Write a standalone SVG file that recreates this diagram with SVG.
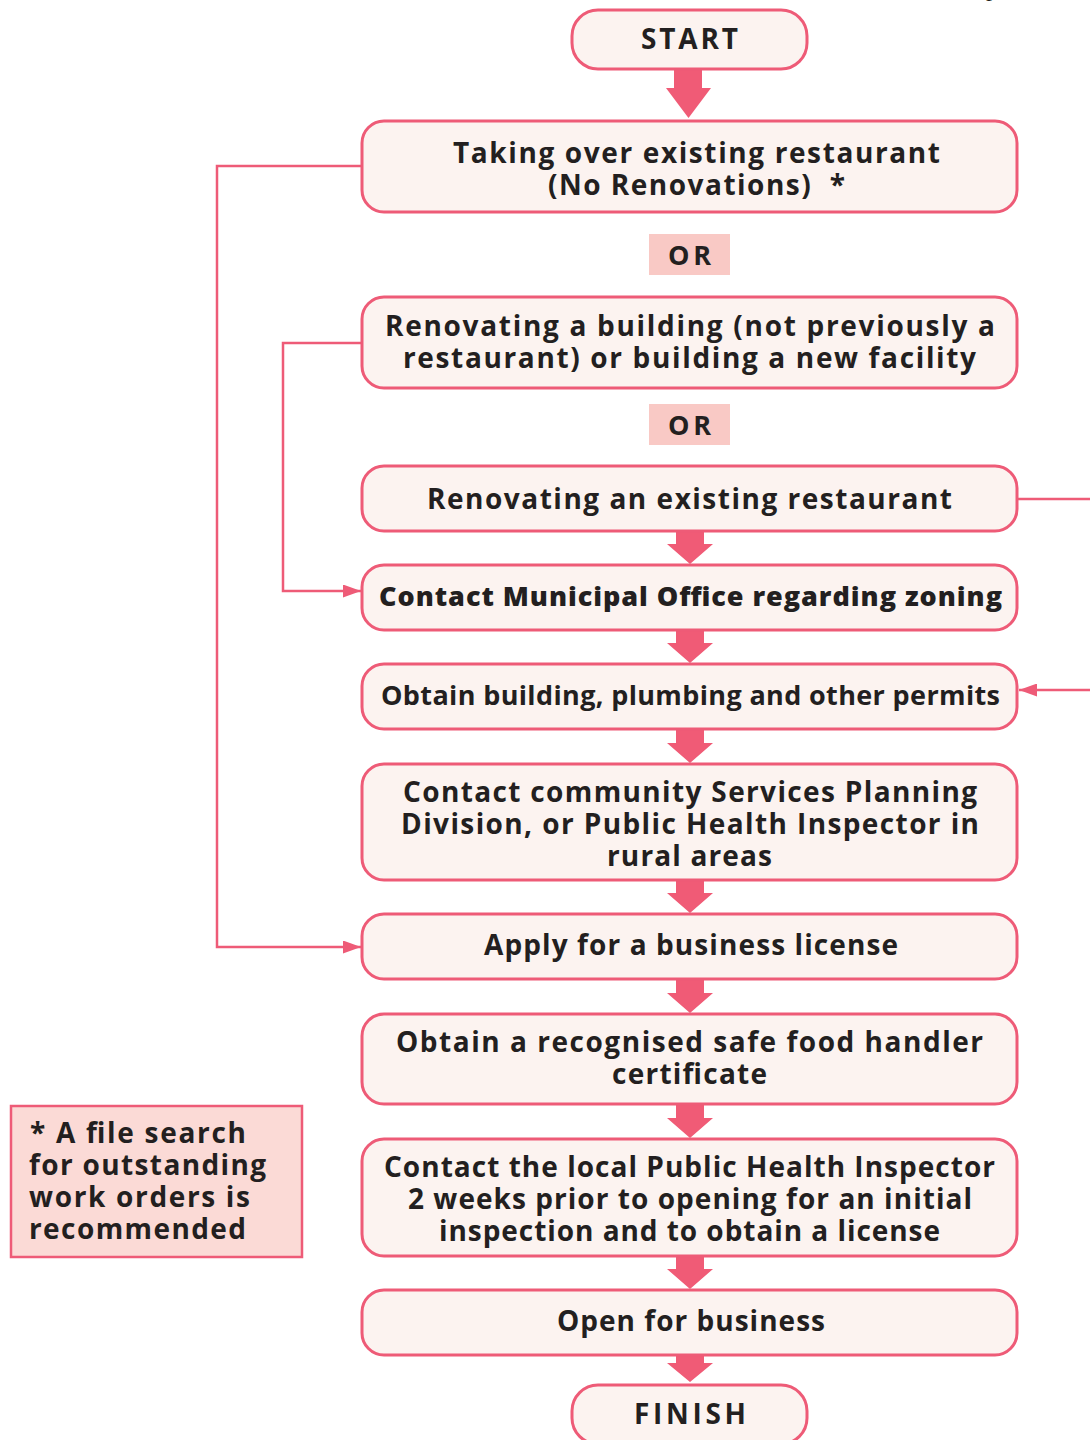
<svg xmlns="http://www.w3.org/2000/svg" xmlns:xlink="http://www.w3.org/1999/xlink" width="1090" height="1440" viewBox="0 0 1090 1440">
  <style>
    .box { fill: #fcf3f0; stroke: #ee5b77; stroke-width: 3; }
    .or { fill: #f9c9c5; }
    .note { fill: #fbdad6; stroke: #ee5b77; stroke-width: 2.5; }
    .t { font-family: "Open Sans", "Liberation Sans", sans-serif; font-weight: 700; font-size: 28px; fill: #231f20; white-space: pre; }
    .heavy { font-weight: 800; font-size: 27px; }
    .tight { font-size: 27px; }
    .or-t { font-size: 27px; }
    .conn { fill: none; stroke: #ee5b77; stroke-width: 2.5; }
    .blk { fill: #f05b76; }
  </style>
  <defs>
    <!-- wide block arrow joining consecutive steps (34px gap) -->
    <path id="blk" class="blk" d="M-14,0 H14 V13 H23 L0,33 L-23,13 H-14 Z"/>
    <marker id="tri" markerUnits="userSpaceOnUse" markerWidth="18" markerHeight="13" refX="18" refY="6.5" orient="auto">
      <path d="M0,0 L18,6.5 L0,13 Z" fill="#ee5b77"/>
    </marker>
  </defs>

  <!-- running text cut off at the top edge -->
  <text x="986" y="-4" font-family="Liberation Serif, serif" font-size="24" fill="#231f20">p</text>

  <!-- connectors -->
  <g id="connectors">
    <path class="blk" d="M674,70 H702 V88 H711 L688.5,118 L666,88 H674 Z"/>
    <use xlink:href="#blk" href="#blk" x="690" y="531"/>
    <use xlink:href="#blk" href="#blk" x="690" y="630"/>
    <use xlink:href="#blk" href="#blk" x="690" y="730"/>
    <use xlink:href="#blk" href="#blk" x="690" y="880"/>
    <use xlink:href="#blk" href="#blk" x="690" y="980"/>
    <use xlink:href="#blk" href="#blk" x="690" y="1105"/>
    <use xlink:href="#blk" href="#blk" x="690" y="1256"/>
    <path class="blk" d="M676,1356 H704 V1363 H713 L690,1382 L667,1363 H676 Z"/>
    <!-- bypass lines -->
    <path class="conn" d="M362,166 H217 V947 H361" marker-end="url(#tri)"/>
    <path class="conn" d="M362,343 H283 V591 H361" marker-end="url(#tri)"/>
    <path class="conn" d="M1017,499 H1110 V690 H1019" marker-end="url(#tri)"/>
  </g>

  <g id="start">
    <rect class="box" x="572" y="10" width="235" height="59" rx="26"/>
    <text class="t" x="641" y="49" textLength="97" lengthAdjust="spacing">START</text>
  </g>

  <g id="takeover">
    <rect class="box" x="362" y="121" width="655" height="91" rx="22"/>
    <text class="t" x="453" y="163" textLength="487" lengthAdjust="spacing">Taking over existing restaurant</text>
    <text class="t" x="548" y="195" textLength="297" lengthAdjust="spacing">(No Renovations)  *</text>
  </g>

  <g id="or1">
    <rect class="or" x="649" y="234" width="81" height="41"/>
    <text class="t or-t" x="668" y="265" textLength="43" lengthAdjust="spacing">OR</text>
  </g>

  <g id="new-build">
    <rect class="box" x="362" y="297" width="655" height="91" rx="22"/>
    <text class="t" x="385" y="336" textLength="610" lengthAdjust="spacing">Renovating a building (not previously a</text>
    <text class="t" x="403" y="368" textLength="573" lengthAdjust="spacing">restaurant) or building a new facility</text>
  </g>

  <g id="or2">
    <rect class="or" x="649" y="404" width="81" height="41"/>
    <text class="t or-t" x="668" y="435" textLength="43" lengthAdjust="spacing">OR</text>
  </g>

  <g id="renovate">
    <rect class="box" x="362" y="466" width="655" height="65" rx="22"/>
    <text class="t" x="427" y="509" textLength="525" lengthAdjust="spacing">Renovating an existing restaurant</text>
  </g>

  <g id="zoning">
    <rect class="box" x="362" y="565" width="655" height="65" rx="22"/>
    <text class="t heavy" x="379" y="606" textLength="623" lengthAdjust="spacing">Contact Municipal Office regarding zoning</text>
  </g>

  <g id="permits">
    <rect class="box" x="362" y="664" width="655" height="65" rx="22"/>
    <text class="t tight" x="381" y="705" textLength="619" lengthAdjust="spacing">Obtain building, plumbing and other permits</text>
  </g>

  <g id="planning">
    <rect class="box" x="362" y="764" width="655" height="116" rx="22"/>
    <text class="t" x="403" y="802" textLength="574" lengthAdjust="spacing">Contact community Services Planning</text>
    <text class="t" x="401" y="834" textLength="578" lengthAdjust="spacing">Division, or Public Health Inspector in</text>
    <text class="t" x="607" y="866" textLength="165" lengthAdjust="spacing">rural areas</text>
  </g>

  <g id="license">
    <rect class="box" x="362" y="914" width="655" height="65" rx="22"/>
    <text class="t" x="484" y="955" textLength="414" lengthAdjust="spacing">Apply for a business license</text>
  </g>

  <g id="food-handler">
    <rect class="box" x="362" y="1014" width="655" height="90" rx="22"/>
    <text class="t" x="396" y="1052" textLength="587" lengthAdjust="spacing">Obtain a recognised safe food handler</text>
    <text class="t" x="612" y="1084" textLength="155" lengthAdjust="spacing">certificate</text>
  </g>

  <g id="inspector">
    <rect class="box" x="362" y="1139" width="655" height="117" rx="22"/>
    <text class="t" x="384" y="1177" textLength="611" lengthAdjust="spacing">Contact the local Public Health Inspector</text>
    <text class="t" x="408" y="1209" textLength="564" lengthAdjust="spacing">2 weeks prior to opening for an initial</text>
    <text class="t" x="439" y="1241" textLength="501" lengthAdjust="spacing">inspection and to obtain a license</text>
  </g>

  <g id="open">
    <rect class="box" x="362" y="1290" width="655" height="65" rx="22"/>
    <text class="t" x="557" y="1331" textLength="268" lengthAdjust="spacing">Open for business</text>
  </g>

  <g id="finish">
    <rect class="box" x="572" y="1385" width="235" height="59" rx="26"/>
    <text class="t" x="634" y="1424" textLength="112" lengthAdjust="spacing">FINISH</text>
  </g>

  <g id="footnote">
    <rect class="note" x="11" y="1106" width="291" height="151"/>
    <text class="t" x="30" y="1143" textLength="216" lengthAdjust="spacing">* A file search</text>
    <text class="t" x="29" y="1175" textLength="237" lengthAdjust="spacing">for outstanding</text>
    <text class="t" x="29" y="1207" textLength="221" lengthAdjust="spacing">work orders is</text>
    <text class="t" x="29" y="1239" textLength="217" lengthAdjust="spacing">recommended</text>
  </g>
</svg>
